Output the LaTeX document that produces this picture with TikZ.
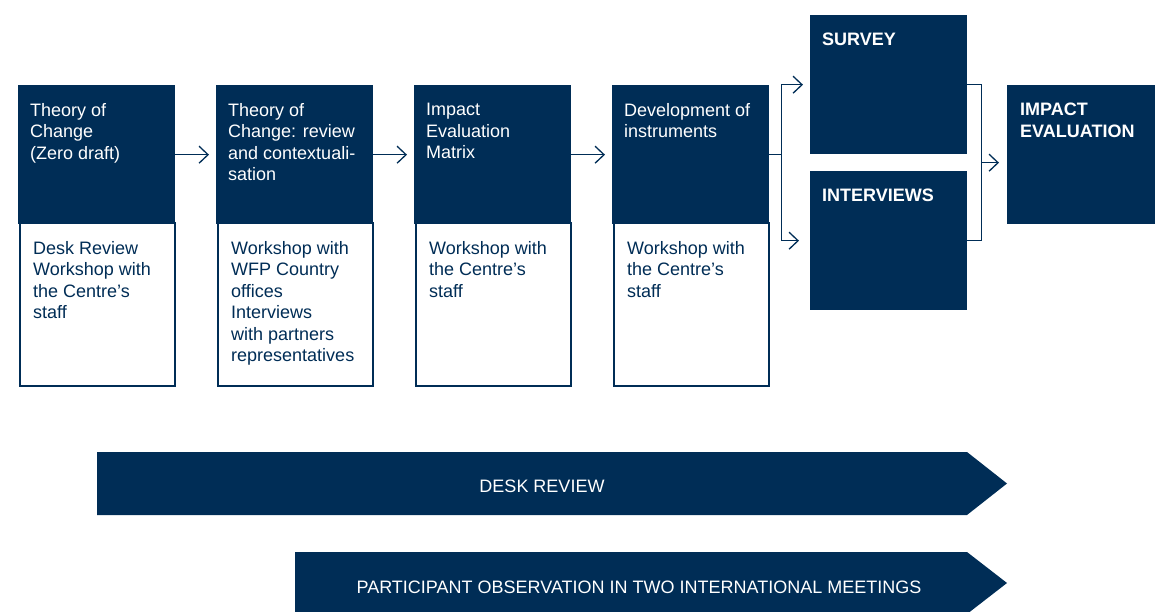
\documentclass[tikz,border=0pt]{standalone}
\usepackage{fontspec}
\setmainfont{Liberation Sans}
\usetikzlibrary{arrows.meta,calc}
\definecolor{navy}{HTML}{002D56}
\begin{document}
\begin{tikzpicture}[x=1pt,y=-1pt,
  head/.style={fill=navy, inner sep=0pt, minimum width=157pt, minimum height=139pt, anchor=north west},
  body/.style={draw=navy, fill=white, line width=2pt, inner sep=0pt, minimum width=155pt, minimum height=163pt, anchor=north west},
  tile/.style={fill=navy, inner sep=0pt, minimum width=157pt, minimum height=139pt, anchor=north west},
  headtxt/.style={anchor=north west, inner sep=0pt, align=left, text=white, font=\fontsize{18}{21.5}\selectfont},
  bodytxt/.style={anchor=north west, inner sep=0pt, align=left, text=navy, font=\fontsize{18}{21.5}\selectfont},
  boldtxt/.style={anchor=north west, inner sep=0pt, align=left, text=white, font=\bfseries\fontsize{18}{22}\selectfont},
  bandtxt/.style={inner sep=0pt, text=white, font=\fontsize{18}{20}\selectfont},
  link/.style={draw=navy, line width=1.3pt},
  conn/.style={link, -{Straight Barb[length=9pt,width=17pt,line width=1.3pt]}}
]
\useasboundingbox (0,0) rectangle (1155,612);

% the four process steps: dark heading over a framed white panel
\foreach \i/\x in {1/18, 2/216, 3/414, 4/612} {
  \node[body] (l\i) at (\x+1,222) {};
  \node[head] (h\i) at (\x,85) {};
}

\node[headtxt] (t1) at (30,103) {Theory of\\Change\\(Zero draft)};
\node[bodytxt] (d1) at (33,241) {Desk Review\\Workshop with\\the Centre’s\\staff};

\node[headtxt] (t2) at (228,103) {Theory of\\Change: review\\and contextuali-\\sation};
\node[bodytxt] (d2) at (231,241) {Workshop with\\WFP Country\\offices\\Interviews\\with partners\\representatives};

\node[headtxt] (t3) at (426,103) {Impact\\Evaluation\\Matrix};
\node[bodytxt] (d3) at (429,241) {Workshop with\\the Centre’s\\staff};

\node[headtxt] (t4) at (624,103) {Development of\\instruments};
\node[bodytxt] (d4) at (627,241) {Workshop with\\the Centre’s\\staff};

% data collection and final evaluation tiles
\node[tile] (sv) at (810,15) {};
\node[tile] (iv) at (810,171) {};
\node[tile, minimum width=148pt] (ie) at (1007,85) {};

\node[boldtxt] (svt) at (822,33) {SURVEY};
\node[boldtxt] (ivt) at (822,189) {INTERVIEWS};
\node[boldtxt] (iet) at (1020,103) {IMPACT\\EVALUATION};

% connectors between the steps
\draw[conn, shorten >=7pt] (h1.east) -- (h2.west);
\draw[conn, shorten >=7pt] (h2.east) -- (h3.west);
\draw[conn, shorten >=7pt] (h3.east) -- (h4.west);

\coordinate (j) at ([xshift=12pt]h4.east);
\draw[link] (h4.east) -- (j);
\draw[conn, shorten >=7pt] (j) |- (sv.west);
\draw[conn, shorten >=11pt] (j) |- (iv.west);

\draw[link] (sv.east) -- ++(14,0) |- (iv.east);
\coordinate (k) at ($(sv.east)!0.5!(iv.east)+(14,0)$);
\draw[conn, shorten >=8pt] (k) -- (k -| ie.west);

% activities running across the whole process
\fill[navy] (97,452) -- (967,452) -- (1007,483.5) -- (967,515) -- (97,515) -- cycle;
\node[bandtxt] (dr) at (542,486) {DESK REVIEW};

\fill[navy] (295,552) -- (967,552) -- (1007,583) -- (967,614) -- (295,614) -- cycle;
\node[bandtxt] (po) at (639,587) {PARTICIPANT OBSERVATION IN TWO INTERNATIONAL MEETINGS};
\end{tikzpicture}
\end{document}
